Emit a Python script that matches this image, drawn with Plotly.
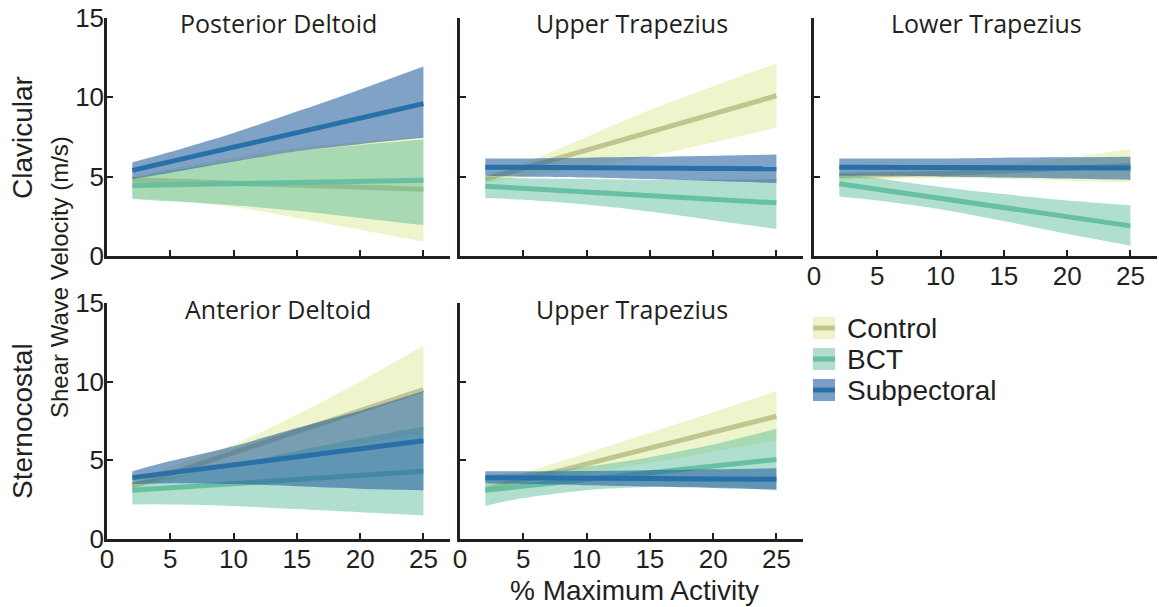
import plotly.graph_objects as go

# ---------------- data ----------------
activity = [2, 5, 10, 15, 20, 25]
x_ticks = [0, 5, 10, 15, 20, 25]
y_ticks = [0, 5, 10, 15]
groups = ["Control", "BCT", "Subpectoral"]

# Clavicular - Posterior Deltoid
pd_control_mean = [4.8, 4.72, 4.59, 4.46, 4.33, 4.2]
pd_control_upper = [5.0, 5.5, 6.2, 6.8, 7.2, 7.55]
pd_control_lower = [3.65, 3.5, 3.1, 2.4, 1.65, 0.9]
pd_bct_mean = [4.45, 4.5, 4.55, 4.63, 4.7, 4.78]
pd_bct_upper = [4.9, 5.35, 6.0, 6.6, 7.0, 7.35]
pd_bct_lower = [3.6, 3.45, 3.2, 2.85, 2.4, 1.95]
pd_sub_mean = [5.4, 5.95, 6.86, 7.77, 8.69, 9.6]
pd_sub_upper = [5.9, 6.55, 7.75, 9.1, 10.5, 11.95]
pd_sub_lower = [4.85, 5.25, 5.95, 6.6, 7.05, 7.45]

# Clavicular - Upper Trapezius
ut1_control_mean = [4.85, 5.53, 6.67, 7.82, 8.96, 10.1]
ut1_control_upper = [5.1, 5.85, 7.5, 9.2, 10.7, 12.15]
ut1_control_lower = [4.6, 5.0, 5.6, 6.3, 7.15, 8.1]
ut1_bct_mean = [4.4, 4.26, 4.04, 3.81, 3.58, 3.35]
ut1_bct_upper = [5.0, 4.9, 4.85, 4.8, 4.8, 4.85]
ut1_bct_lower = [3.65, 3.55, 3.25, 2.8, 2.25, 1.7]
ut1_sub_mean = [5.6, 5.59, 5.58, 5.56, 5.53, 5.5]
ut1_sub_upper = [6.15, 6.15, 6.2, 6.25, 6.32, 6.4]
ut1_sub_lower = [5.05, 5.0, 4.95, 4.85, 4.72, 4.6]

# Clavicular - Lower Trapezius
lt_control_mean = [5.05, 5.1, 5.2, 5.35, 5.5, 5.7]
lt_control_upper = [5.3, 5.35, 5.5, 5.8, 6.2, 6.75]
lt_control_lower = [4.8, 4.85, 4.9, 4.85, 4.75, 4.65]
lt_bct_mean = [4.55, 4.2, 3.63, 3.05, 2.48, 1.9]
lt_bct_upper = [5.2, 4.9, 4.35, 3.9, 3.5, 3.2]
lt_bct_lower = [3.75, 3.5, 2.95, 2.2, 1.4, 0.65]
lt_sub_mean = [5.6, 5.6, 5.59, 5.58, 5.57, 5.55]
lt_sub_upper = [6.15, 6.15, 6.15, 6.2, 6.22, 6.25]
lt_sub_lower = [5.05, 5.05, 5.0, 4.95, 4.88, 4.8]

# Sternocostal - Anterior Deltoid
ad_control_mean = [3.35, 4.15, 5.49, 6.83, 8.16, 9.5]
ad_control_upper = [3.6, 4.6, 6.0, 7.9, 10.0, 12.3]
ad_control_lower = [3.1, 3.75, 4.8, 5.4, 6.05, 6.7]
ad_bct_mean = [3.1, 3.26, 3.52, 3.78, 4.04, 4.3]
ad_bct_upper = [3.6, 3.95, 4.75, 5.6, 6.4, 7.15]
ad_bct_lower = [2.2, 2.2, 2.1, 1.9, 1.7, 1.5]
ad_sub_mean = [3.9, 4.21, 4.72, 5.23, 5.74, 6.25]
ad_sub_upper = [4.3, 4.95, 5.9, 7.05, 8.15, 9.4]
ad_sub_lower = [3.5, 3.55, 3.5, 3.35, 3.2, 3.1]

# Sternocostal - Upper Trapezius
ut2_control_mean = [3.15, 3.76, 4.77, 5.78, 6.79, 7.8]
ut2_control_upper = [3.5, 4.2, 5.45, 6.75, 8.05, 9.4]
ut2_control_lower = [2.9, 3.4, 4.15, 4.85, 5.55, 6.25]
ut2_bct_mean = [3.1, 3.35, 3.78, 4.2, 4.63, 5.05]
ut2_bct_upper = [4.1, 4.2, 4.6, 5.2, 6.0, 7.0]
ut2_bct_lower = [2.1, 2.6, 3.1, 3.3, 3.3, 3.1]
ut2_sub_mean = [3.9, 3.9, 3.88, 3.85, 3.82, 3.8]
ut2_sub_upper = [4.3, 4.3, 4.32, 4.37, 4.43, 4.5]
ut2_sub_lower = [3.55, 3.5, 3.42, 3.33, 3.24, 3.15]

panel_titles = ["Posterior Deltoid", "Upper Trapezius", "Lower Trapezius",
                "Anterior Deltoid", "Upper Trapezius"]
row_labels = ["Clavicular", "Sternocostal"]
y_title = "Shear Wave Velocity (m/s)"
x_title = "% Maximum Activity"

panels = [
    [(pd_control_mean, pd_control_upper, pd_control_lower),
     (pd_bct_mean, pd_bct_upper, pd_bct_lower),
     (pd_sub_mean, pd_sub_upper, pd_sub_lower)],
    [(ut1_control_mean, ut1_control_upper, ut1_control_lower),
     (ut1_bct_mean, ut1_bct_upper, ut1_bct_lower),
     (ut1_sub_mean, ut1_sub_upper, ut1_sub_lower)],
    [(lt_control_mean, lt_control_upper, lt_control_lower),
     (lt_bct_mean, lt_bct_upper, lt_bct_lower),
     (lt_sub_mean, lt_sub_upper, lt_sub_lower)],
    [(ad_control_mean, ad_control_upper, ad_control_lower),
     (ad_bct_mean, ad_bct_upper, ad_bct_lower),
     (ad_sub_mean, ad_sub_upper, ad_sub_lower)],
    [(ut2_control_mean, ut2_control_upper, ut2_control_lower),
     (ut2_bct_mean, ut2_bct_upper, ut2_bct_lower),
     (ut2_sub_mean, ut2_sub_upper, ut2_sub_lower)],
]

# ---------------- styling ----------------
W, H = 1159, 607
band_colors = ["rgba(215,228,130,0.42)", "rgba(80,185,150,0.45)", "rgba(44,100,160,0.6)"]
line_colors = ["rgba(190,195,140,0.95)", "rgba(100,190,160,0.95)", "rgba(40,112,168,1)"]
legend_band = ["rgb(238,243,200)", "rgb(176,221,205)", "rgb(124,158,198)"]
ink = "#231f20"
tick_font = dict(family="Liberation Sans", size=26, color=ink)


def fx(p):
    return p / W


def fy(p):
    return 1 - p / H


col_dom = [[fx(107), fx(450)], [fx(460), fx(803)], [fx(814), fx(1157)]]
row_dom = [[fy(256), fy(18)], [fy(539), fy(303)]]
# (col, row, show y labels, show x labels)
layout_spec = [(0, 0, True, False), (1, 0, False, False), (2, 0, False, True),
               (0, 1, True, True), (1, 1, False, True)]

fig = go.Figure()
layout = dict(width=W, height=H, margin=dict(l=0, r=0, t=0, b=0),
              plot_bgcolor="white", paper_bgcolor="white", showlegend=False)

for i, (series, spec) in enumerate(zip(panels, layout_spec)):
    col, row, show_y, show_x = spec
    suffix = "" if i == 0 else str(i + 1)
    xa, ya = "x" + suffix, "y" + suffix
    for g, (mean, upper, lower) in enumerate(series):
        fig.add_trace(go.Scatter(x=activity, y=lower, mode="lines",
                                 line=dict(width=0, shape="spline", smoothing=0.8),
                                 hoverinfo="skip", xaxis=xa, yaxis=ya,
                                 showlegend=False))
        fig.add_trace(go.Scatter(x=activity, y=upper, mode="lines", fill="tonexty",
                                 fillcolor=band_colors[g],
                                 line=dict(width=0, shape="spline", smoothing=0.8),
                                 hoverinfo="skip", xaxis=xa, yaxis=ya,
                                 showlegend=False))
        fig.add_trace(go.Scatter(x=activity, y=mean, mode="lines", name=groups[g],
                                 line=dict(width=5, color=line_colors[g]),
                                 xaxis=xa, yaxis=ya, showlegend=False))
    axis_common = dict(showline=True, linecolor=ink, linewidth=2.5, ticks="inside",
                       ticklen=6, tickwidth=2, tickcolor=ink, showgrid=False,
                       zeroline=False, tickfont=tick_font, automargin=False,
                       fixedrange=True)
    layout["xaxis" + suffix] = dict(axis_common, domain=col_dom[col], range=[0, 27.1],
                                    tickvals=x_ticks, showticklabels=show_x,
                                    anchor=ya, ticklabelstandoff=-5)
    layout["yaxis" + suffix] = dict(axis_common, domain=row_dom[row], range=[0, 15],
                                    tickvals=y_ticks, showticklabels=show_y,
                                    anchor=xa, ticklabelstandoff=-5)

annotations = []
title_font = dict(family="Open Sans", size=25, color=ink)
title_pos = [(278, 23), (632, 23), (986, 23), (278, 309), (632, 309)]
for t, (px, py) in zip(panel_titles, title_pos):
    annotations.append(dict(text=t, x=fx(px), y=fy(py), xref="paper", yref="paper",
                            showarrow=False, xanchor="center", yanchor="middle",
                            font=title_font))
big_font = dict(family="Liberation Sans", size=28, color=ink)
for lbl, py in zip(row_labels, [138, 421]):
    annotations.append(dict(text=lbl, x=fx(22), y=fy(py), xref="paper", yref="paper",
                            showarrow=False, textangle=-90, xanchor="center",
                            yanchor="middle", font=big_font))
annotations.append(dict(text=y_title, x=fx(59), y=fy(277), xref="paper", yref="paper",
                        showarrow=False, textangle=-90, xanchor="center",
                        yanchor="middle",
                        font=dict(family="Liberation Sans", size=24, color=ink)))
annotations.append(dict(text=x_title, x=fx(634), y=fy(590), xref="paper", yref="paper",
                        showarrow=False, xanchor="center", yanchor="middle",
                        font=big_font))

# legend (keys drawn as layout shapes)
shapes = []
legend_y = [328, 359, 390]
for g, py in enumerate(legend_y):
    shapes.append(dict(type="rect", xref="paper", yref="paper",
                       x0=fx(813), x1=fx(835), y0=fy(py + 11), y1=fy(py - 11),
                       fillcolor=legend_band[g], line=dict(width=0)))
    shapes.append(dict(type="rect", xref="paper", yref="paper",
                       x0=fx(813), x1=fx(835), y0=fy(py + 2.5), y1=fy(py - 2.5),
                       fillcolor=line_colors[g], line=dict(width=0)))
    annotations.append(dict(text=groups[g], x=fx(845), y=fy(py), xref="paper",
                            yref="paper", showarrow=False, xanchor="left",
                            yanchor="middle", font=big_font))

layout["annotations"] = annotations
layout["shapes"] = shapes
fig.update_layout(**layout)
fig.write_html("out.html", config={"displayModeBar": False})

# remove the default page margin so the figure fills the window exactly
with open("out.html", encoding="utf-8") as f:
    html = f.read()
html = html.replace("<head>", "<head><style>html,body{margin:0;padding:0;overflow:hidden;}</style>", 1)
with open("out.html", "w", encoding="utf-8") as f:
    f.write(html)
